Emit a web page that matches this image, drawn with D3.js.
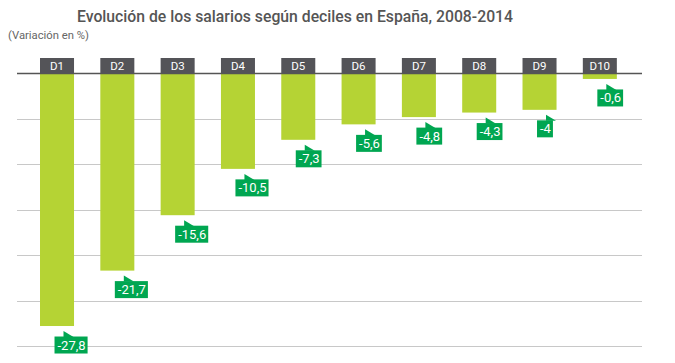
<!DOCTYPE html>
<html><head><meta charset="utf-8">
<script src="https://cdn.jsdelivr.net/npm/d3@7"></script>
<style>body{margin:0;background:#fff}</style>
</head><body>
<svg id="c" width="675" height="363"></svg>
<script>
const categories = ["D1","D2","D3","D4","D5","D6","D7","D8","D9","D10"];
const values = [-27.8,-21.7,-15.6,-10.5,-7.3,-5.6,-4.8,-4.3,-4,-0.6];
const labels = ["-27,8","-21,7","-15,6","-10,5","-7,3","-5,6","-4,8","-4,3","-4","-0,6"];
const gridTicks = [-5,-10,-15,-20,-25,-30];

const svg = d3.select("#c");
const font = "Roboto, 'Open Sans', sans-serif";
const y = d3.scaleLinear().domain([0,-30]).range([73.5,346]);
const x = d3.scaleBand().domain(categories).range([9.85,647]).paddingInner(0.436).paddingOuter(0.5);

svg.append("text").attr("x",295).attr("y",22).attr("text-anchor","middle")
  .attr("font-family",font).attr("font-size",16).attr("font-weight",500).attr("fill","#555")
  .attr("textLength",436).attr("lengthAdjust","spacingAndGlyphs")
  .text("Evolución de los salarios según deciles en España, 2008-2014");
svg.append("text").attr("x",8).attr("y",39)
  .attr("font-family",font).attr("font-size",11).attr("fill","#666")
  .attr("textLength",81).attr("lengthAdjust","spacingAndGlyphs")
  .text("(Variación en %)");

svg.append("g").selectAll("line").data(gridTicks).join("line")
  .attr("x1",17).attr("x2",642).attr("y1",d=>Math.round(y(d))+0.5).attr("y2",d=>Math.round(y(d))+0.5)
  .attr("stroke","#c8c8c8").attr("stroke-width",1.2);

svg.append("g").selectAll("rect").data(values).join("rect")
  .attr("x",(d,i)=>x(categories[i])).attr("width",x.bandwidth())
  .attr("y",y(0)).attr("height",d=>y(d)-y(0)).attr("fill","#b5d334");

svg.append("line").attr("x1",17).attr("x2",642).attr("y1",73.5).attr("y2",73.5)
  .attr("stroke","#555").attr("stroke-width",1.5);

const tabs = svg.append("g").selectAll("g").data(categories).join("g");
tabs.append("rect").attr("x",d=>x(d)).attr("width",x.bandwidth()).attr("y",58).attr("height",15).attr("fill","#545458");
tabs.append("text").attr("x",d=>x(d)+x.bandwidth()/2).attr("y",70).attr("text-anchor","middle")
  .attr("font-family",font).attr("font-size",11.5).attr("fill","#fff").text(d=>d);

const call = svg.append("g").selectAll("g").data(values).join("g")
  .attr("transform",(d,i)=>`translate(${x(categories[i])+x.bandwidth()/2-2.5},${y(d)+10.5})`);
call.append("path").attr("d","M9,0.5 L9,-5.5 L19,0.5 Z").attr("fill","#00a651");
call.each(function(d,i){
  const g = d3.select(this);
  const t = g.append("text").attr("x",3).attr("y",13).attr("font-family",font).attr("font-size",13)
    .attr("fill","#fff").text(labels[i]);
  const w = t.node().getComputedTextLength();
  g.insert("rect","text").attr("x",0).attr("y",0).attr("width",w+5).attr("height",17).attr("fill","#00a651");
});
</script>
</body></html>
